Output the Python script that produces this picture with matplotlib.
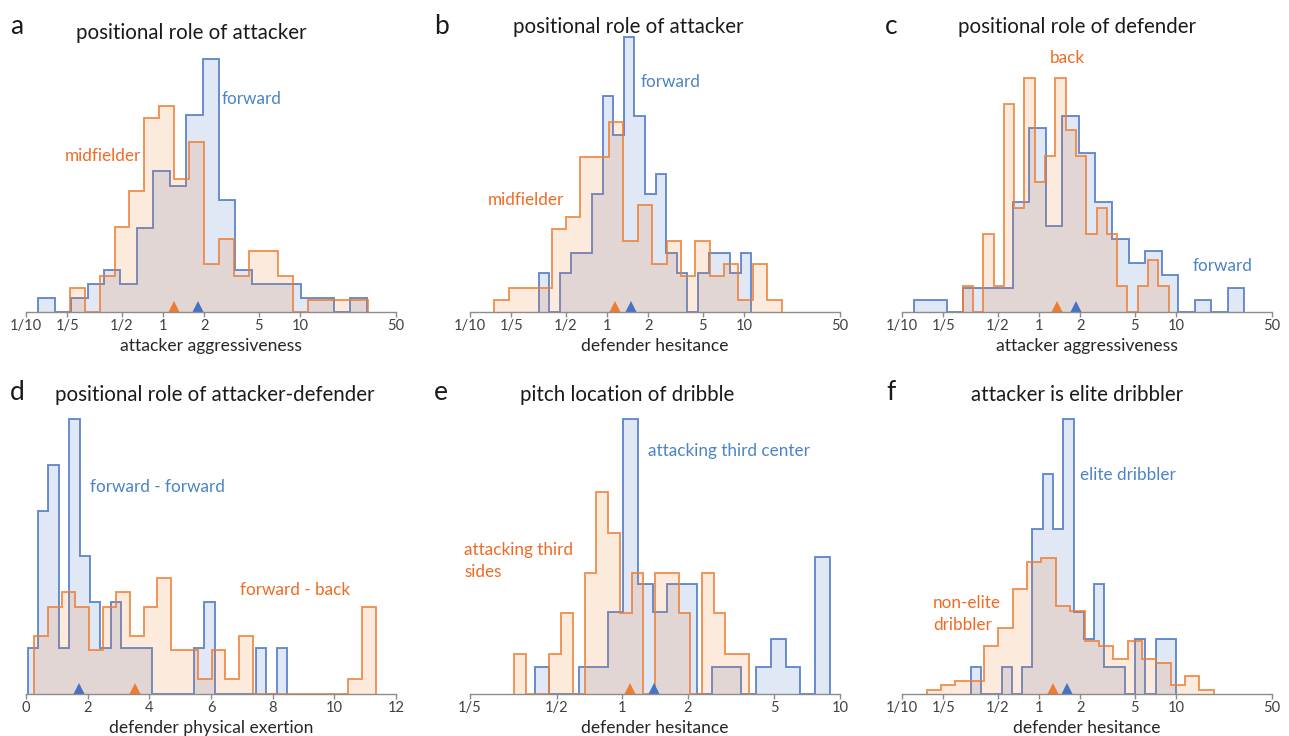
import numpy as np
import matplotlib.pyplot as plt
import matplotlib.transforms as mtransforms

plt.rcParams['font.family'] = ['Lato', 'DejaVu Sans']

W, H = 1289, 736

# ---- data: bin counts, bin range (data units) and mean marker per series ----
# a: positional role of attacker -> attacker aggressiveness
a_fwd_counts = [1, 0, 1, 2, 3, 2, 6, 10, 9, 14, 18, 8, 3, 2, 2, 2, 1, 1, 0, 1]
a_fwd_range = (0.123, 30.6)
a_mid_counts = [2, 0, 3, 7, 10, 16, 17, 11, 14, 4, 6, 3, 5, 5, 3, 0, 1, 1, 1, 1]
a_mid_range = (0.209, 31.1)
a_means = (1.81, 1.21)

# b: positional role of attacker -> defender hesitance
b_fwd_counts = [2, 0, 2, 3, 3, 6, 11, 9, 14, 10, 6, 7, 3, 2, 0, 2, 3, 3, 2, 3]
b_fwd_range = (0.318, 11.25)
b_mid_counts = [1, 2, 2, 2, 7, 8, 13, 13, 16, 6, 9, 4, 6, 3, 6, 3, 4, 1, 4, 1]
b_mid_range = (0.150, 18.75)
b_means = (1.50, 1.15)

# c: positional role of defender -> attacker aggressiveness
c_fwd_counts = [1, 1, 0, 2, 2, 2, 9, 15, 7, 16, 13, 9, 6, 4, 5, 3, 0, 1, 0, 2]
c_fwd_range = (0.122, 31.3)
c_back_counts = [1, 0, 3, 1, 8, 4, 9, 5, 6, 9, 7, 6, 3, 4, 3, 1, 0, 1, 2, 1]
c_back_range = (0.277, 8.81)
c_means = (1.87, 1.34)

# d: attacker-defender roles -> defender physical exertion (linear)
d_ff_counts = [1, 4, 5, 1, 6, 3, 2, 1, 2, 1, 1, 1, 0, 0, 0, 0, 1, 2, 0, 0, 0, 0, 1, 0, 1]
d_ff_range = (0.054, 8.47)
d_fb_counts = [4, 6, 7, 6, 3, 6, 7, 4, 6, 8, 3, 3, 1, 3, 1, 4, 0, 0, 0, 0, 0, 0, 0, 1, 6]
d_fb_range = (0.27, 11.34)
d_means = (1.71, 3.52)

# e: pitch location of dribble -> defender hesitance
e_center_counts = [1, 0, 0, 1, 1, 3, 10, 4, 3, 4, 4, 0, 1, 1, 0, 1, 2, 1, 0, 5]
e_center_range = (0.396, 8.98)
e_sides_counts = [1, 0, 0, 1, 2, 0, 3, 5, 4, 2, 3, 0, 3, 3, 2, 0, 3, 2, 1, 1]
e_sides_range = (0.319, 3.82)
e_means = (1.40, 1.086)

# f: attacker is elite dribbler -> defender hesitance
f_elite_counts = [1, 0, 0, 1, 0, 1, 6, 8, 6, 10, 3, 2, 4, 1, 1, 0, 2, 0, 2, 2]
f_elite_range = (0.318, 10.0)
f_non_counts = [1, 2, 3, 3, 11, 15, 24, 30, 31, 20, 19, 12, 11, 8, 12, 8, 7, 2, 4, 1]
f_non_range = (0.151, 18.8)
f_means = (1.60, 1.255)

log_ticks = [0.1, 0.2, 0.5, 1, 2, 5, 10, 50]
log_labels = ['1/10', '1/5', '1/2', '1', '2', '5', '10', '50']
e_ticks = [0.2, 0.5, 1, 2, 5, 10]
e_labels = ['1/5', '1/2', '1', '2', '5', '10']
d_ticks = [0, 2, 4, 6, 8, 10, 12]

BLUE = '#4472C4'
ORANGE = '#ED7D31'
BLUE_TXT = '#4A84C6'
ORANGE_TXT = '#F06A22'


def px(x, y):
    return x / W, 1 - y / H


def hist_edges(rng, n, log):
    if log:
        return np.geomspace(rng[0], rng[1], n + 1)
    return np.linspace(rng[0], rng[1], n + 1)


def density(counts, edges, log):
    c = np.asarray(counts, float)
    w = np.diff(np.log10(edges)) if log else np.diff(edges)
    return c / (c.sum() * w)


fig = plt.figure(figsize=(W / 100, H / 100), dpi=100)

panels = [
    # letter, title, xlabel, left_px, baseline_px, log, xlim, ticks, labels, series, means, headroom
    ('a', 'positional role of attacker', 'attacker aggressiveness', 26, 312, True,
     (0.1, 50), log_ticks, log_labels,
     [(a_fwd_counts, a_fwd_range, BLUE), (a_mid_counts, a_mid_range, ORANGE)], a_means, 1.087),
    ('b', 'positional role of attacker', 'defender hesitance', 470, 312, True,
     (0.1, 50), log_ticks, log_labels,
     [(b_fwd_counts, b_fwd_range, BLUE), (b_mid_counts, b_mid_range, ORANGE)], b_means, 1.0),
    ('c', 'positional role of defender', 'attacker aggressiveness', 902, 312, True,
     (0.1, 50), log_ticks, log_labels,
     [(c_fwd_counts, c_fwd_range, BLUE), (c_back_counts, c_back_range, ORANGE)], c_means, 1.175),
    ('d', 'positional role of attacker-defender', 'defender physical exertion', 26, 694, False,
     (0, 12), d_ticks, [str(t) for t in d_ticks],
     [(d_ff_counts, d_ff_range, BLUE), (d_fb_counts, d_fb_range, ORANGE)], d_means, 1.0),
    ('e', 'pitch location of dribble', 'defender hesitance', 470, 694, True,
     (0.2, 10), e_ticks, e_labels,
     [(e_center_counts, e_center_range, BLUE), (e_sides_counts, e_sides_range, ORANGE)], e_means, 1.0),
    ('f', 'attacker is elite dribbler', 'defender hesitance', 902, 694, True,
     (0.1, 50), log_ticks, log_labels,
     [(f_elite_counts, f_elite_range, BLUE), (f_non_counts, f_non_range, ORANGE)], f_means, 1.0),
]

for (letter, title, xlabel, left, base, log, xlim, ticks, labels,
     series, means, headroom) in panels:
    ax = fig.add_axes([left / W, 1 - base / H, 370 / W, 275 / H])
    if log:
        ax.set_xscale('log')
    ymax = 0
    for counts, rng, col in series:
        edges = hist_edges(rng, len(counts), log)
        dens = density(counts, edges, log)
        ymax = max(ymax, dens.max())
        ax.stairs(dens, edges, fill=True, color=col, alpha=0.16, lw=0)
        ax.stairs(dens, edges, color=col, alpha=0.8, lw=1.4, baseline=0, clip_on=False)
    ax.set_ylim(0, ymax * headroom)
    ax.set_xlim(*xlim)
    tri = mtransforms.offset_copy(ax.transData, fig=fig, y=5, units='dots')
    for m, (counts, rng, col) in zip(means, series):
        ax.plot([m], [0], marker='^', ms=8.5, color=col, mew=0, transform=tri, clip_on=False)
    for s in ['top', 'right', 'left']:
        ax.spines[s].set_visible(False)
    ax.spines['bottom'].set_color('#8c8c8c')
    ax.spines['bottom'].set_linewidth(1.0)
    ax.set_yticks([])
    ax.set_xticks(ticks)
    ax.set_xticklabels(labels)
    ax.minorticks_off()
    ax.tick_params(axis='x', colors='#8c8c8c', labelcolor='#404040', labelsize=10.5,
                   length=3.5, width=1, pad=1.5)
    ax.set_xlabel(xlabel, fontsize=12.6, color='#262626', labelpad=3.5)

# titles and panel letters
titles = {'a': (191, 33), 'b': (628, 27), 'c': (1077, 27),
          'd': (215, 395), 'e': (627, 395), 'f': (1077, 395)}
letters = {'a': (10, 26), 'b': (434, 26), 'c': (885, 26),
           'd': (10, 393), 'e': (434, 393), 'f': (886, 393)}
for p in panels:
    fig.text(*px(*titles[p[0]]), p[1], ha='center', va='center', fontsize=14.8, color='#1a1a1a')
    fig.text(*px(*letters[p[0]]), p[0], ha='left', va='center', fontsize=19, color='#1a1a1a')

# series labels
notes = [
    ('forward', 222, 99, BLUE_TXT),
    ('midfielder', 65, 156, ORANGE_TXT),
    ('forward', 641, 82, BLUE_TXT),
    ('midfielder', 488, 200, ORANGE_TXT),
    ('back', 1050, 58, ORANGE_TXT),
    ('forward', 1193, 266, BLUE_TXT),
    ('forward - forward', 90, 487, BLUE_TXT),
    ('forward - back', 240, 590, ORANGE_TXT),
    ('attacking third center', 648, 451, BLUE_TXT),
    ('attacking third\nsides', 464, 561, ORANGE_TXT),
    ('elite dribbler', 1080, 475, BLUE_TXT),
    ('non-elite\ndribbler', 933, 614, ORANGE_TXT),
]
for txt, x, y, col in notes:
    fig.text(*px(x, y), txt, ha='left', va='center', fontsize=12.3, color=col, linespacing=1.5)

fig.savefig('out.png', dpi=100)
